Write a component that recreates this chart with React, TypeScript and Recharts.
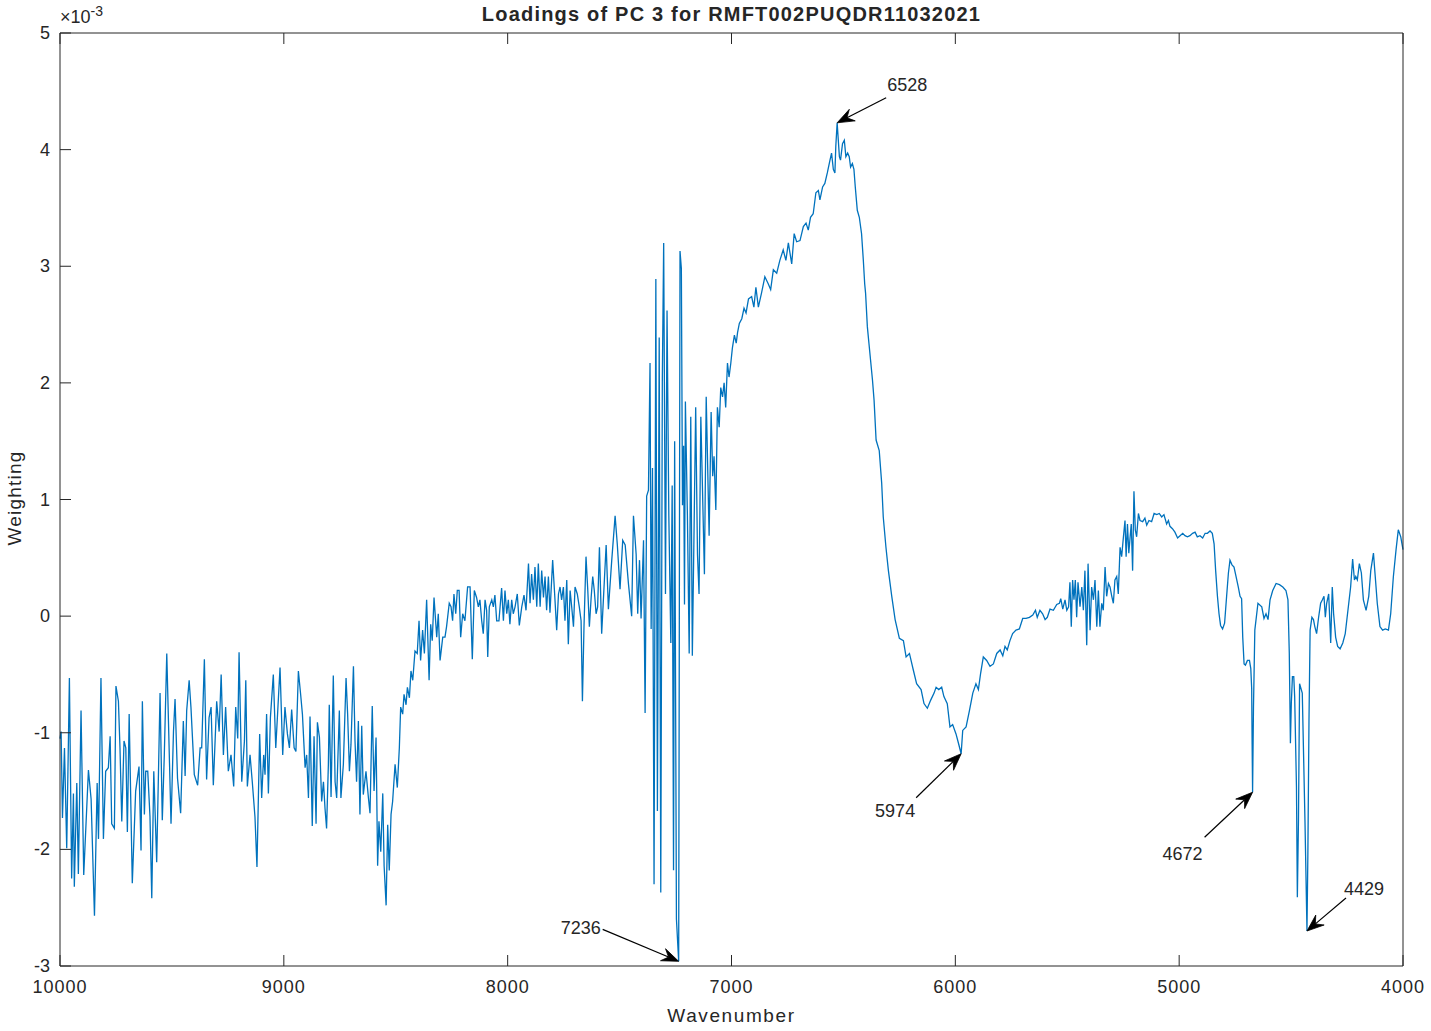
import { LineChart, Line, XAxis, YAxis, ReferenceDot } from 'recharts';

const xTicks = [10000, 9000, 8000, 7000, 6000, 5000, 4000];
const yTicks = [-3, -2, -1, 0, 1, 2, 3, 4, 5];

// [wavenumber, weighting x 1e-3]
const noisyEdge: [number, number][] = [
  [10000, -1.05], [9995, -0.99], [9989, -1.73], [9980, -1.13], [9970, -1.99], [9958, -0.53], [9948, -2.25], [9940, -1.52],
  [9936, -2.32], [9925, -1.43], [9918, -2.21], [9906, -0.81], [9894, -2.22], [9873, -1.32], [9861, -1.57], [9846, -2.57],
  [9834, -1.43], [9828, -1.91], [9817, -0.53], [9806, -1.91], [9796, -1.33], [9784, -1.3], [9776, -1.03], [9769, -1.78],
  [9757, -1.82], [9750, -0.6], [9739, -0.73], [9732, -1.13], [9724, -1.76], [9714, -1.07], [9706, -1.13], [9699, -1.85],
  [9691, -0.84], [9677, -2.29], [9662, -1.5], [9647, -1.29], [9638, -2.01], [9632, -0.73], [9623, -1.7], [9617, -1.33],
  [9608, -1.33], [9598, -1.72], [9590, -2.42], [9581, -1.33], [9568, -2.11], [9553, -0.66], [9543, -1.75], [9534, -1.19],
  [9523, -0.32], [9504, -1.78], [9493, -0.99], [9486, -0.71], [9475, -1.39], [9461, -1.69], [9449, -0.9], [9441, -1.37],
  [9434, -0.81], [9423, -0.55], [9415, -0.78], [9400, -1.36], [9385, -1.45], [9374, -1.13], [9367, -1.13], [9355, -0.37],
  [9345, -1.4], [9334, -0.87], [9325, -0.78], [9315, -1.45], [9300, -0.73], [9289, -0.99], [9280, -0.5], [9270, -1.19],
  [9260, -0.78], [9248, -1.33], [9236, -1.19], [9224, -1.46], [9215, -0.78], [9206, -1.05], [9200, -0.31], [9188, -1.42],
  [9176, -1.07], [9170, -0.55], [9163, -1.46], [9151, -1.19], [9141, -1.42], [9129, -1.72], [9120, -2.15], [9108, -1.01],
  [9099, -1.56], [9090, -1.19], [9084, -1.36], [9077, -0.84], [9069, -1.52], [9060, -0.87], [9047, -0.5], [9036, -1.13],
  [9017, -0.44], [9005, -1.19],
];

const dipBand: [number, number][] = [
  [8995, -0.78], [8984, -1.01], [8975, -1.13], [8965, -0.8], [8954, -1.13], [8946, -1.16], [8935, -0.47], [8925, -0.67],
  [8917, -0.84], [8905, -1.3], [8898, -1.19], [8890, -1.56], [8883, -0.86], [8873, -1.8], [8865, -1.03], [8856, -1.78],
  [8850, -0.91], [8841, -1.04], [8831, -1.59], [8823, -1.42], [8816, -1.65], [8809, -1.82], [8801, -1.27], [8797, -0.76],
  [8789, -1.55], [8779, -0.51], [8771, -1.42], [8764, -1.56], [8752, -0.81], [8745, -1.56], [8734, -1.27], [8722, -0.53],
  [8715, -0.84], [8707, -1.33], [8700, -1.1], [8689, -0.43], [8682, -1.07], [8675, -1.42], [8667, -0.9], [8660, -1.7],
  [8652, -0.94], [8645, -1.53], [8633, -1.33], [8622, -1.56], [8615, -1.69], [8605, -0.77], [8597, -1.5], [8588, -1.04],
  [8581, -2.14], [8575, -1.76], [8567, -2.02], [8558, -1.52], [8552, -2.14], [8543, -2.48], [8536, -1.79], [8529, -2.18],
  [8521, -1.7], [8514, -1.59], [8503, -1.27], [8493, -1.47], [8484, -1.13], [8478, -0.78], [8469, -0.84], [8463, -0.67],
  [8454, -0.76], [8448, -0.61], [8439, -0.7], [8432, -0.47], [8424, -0.55], [8414, -0.3], [8404, -0.32], [8396, -0.04],
  [8389, -0.38], [8380, -0.12], [8372, -0.32], [8362, 0.14], [8351, -0.55], [8344, -0.07], [8337, -0.21], [8329, 0.16],
  [8317, -0.18], [8310, 0.02], [8302, -0.38], [8290, -0.18], [8280, -0.18], [8273, -0.09], [8261, 0.11], [8253, 0.08],
  [8246, -0.04], [8240, 0.19], [8232, 0.02], [8225, 0.22], [8217, 0.22], [8210, -0.18], [8201, 0.02], [8191, -0.04],
  [8179, 0.25], [8168, 0.25], [8158, -0.37], [8149, 0.22], [8139, 0.16], [8131, 0.08], [8124, 0.14], [8116, -0.04],
  [8109, -0.15], [8101, 0.14], [8094, 0.05], [8089, -0.35], [8082, 0.08], [8071, 0.14], [8064, 0.08], [8057, 0.18],
  [8049, -0.04], [8039, -0.04], [8027, 0.24], [8019, -0.04], [8012, 0.22], [8004, 0.02], [7997, 0.14], [7990, -0.07],
  [7982, 0.14], [7975, 0.02], [7967, 0.08], [7957, 0.19], [7948, -0.08],
];

const plateau: [number, number][] = [
  [7937, 0.08], [7927, 0.18], [7918, 0.05], [7907, 0.45], [7900, 0.11], [7893, 0.36], [7885, 0.14], [7878, 0.42],
  [7870, 0.08], [7863, 0.45], [7855, 0.08], [7848, 0.39], [7840, 0.16], [7833, 0.34], [7826, 0.05], [7818, 0.34],
  [7811, 0.03], [7799, 0.48], [7791, 0.22], [7781, -0.12], [7773, 0.19], [7766, 0.25], [7759, 0.14], [7751, 0.25],
  [7744, -0.04], [7736, 0.31], [7729, -0.24], [7721, 0.22], [7714, 0.08], [7706, -0.09], [7699, 0.25], [7689, 0.19],
  [7680, 0.08], [7672, -0.04], [7666, -0.73], [7659, -0.09], [7650, 0.51], [7642, 0.22], [7635, -0.09], [7627, 0.16],
  [7620, 0.34], [7613, 0.22], [7605, 0.02], [7598, 0.08], [7590, 0.59],
];

const burst: [number, number][] = [
  [7580, -0.15], [7560, 0.61], [7550, 0.06], [7535, 0.48], [7520, 0.86], [7510, 0.61], [7498, 0.23], [7486, 0.65],
  [7475, 0.61], [7460, 0.27], [7446, 0.0], [7438, 0.86], [7426, 0.53], [7419, 0.02], [7411, 0.48], [7404, -0.02],
  [7393, 0.65], [7386, -0.83], [7379, 1.03], [7371, 1.08], [7364, 2.17], [7359, -0.11], [7353, 1.27], [7346, -2.3],
  [7338, 2.89], [7331, -1.67], [7323, 2.39], [7316, -2.37], [7309, 2.05], [7303, 3.2], [7295, 0.19], [7288, 2.62],
  [7280, 0.86], [7271, -0.23], [7265, 1.12], [7259, -2.18], [7254, 1.5], [7246, -2.6], [7236, -2.96], [7230, 3.13],
  [7224, 2.98], [7219, 0.95], [7214, 1.46], [7210, 0.1], [7206, 1.84], [7197, 0.86], [7189, -0.32], [7182, 1.71],
  [7175, -0.34], [7167, 0.78], [7160, 1.79], [7152, 0.53], [7145, 0.19], [7137, 1.71], [7130, 1.12], [7121, 0.36],
  [7113, 1.88], [7107, 1.33], [7100, 0.69], [7091, 1.75], [7084, 1.2], [7078, 1.37], [7070, 0.91], [7063, 1.79],
  [7055, 1.62], [7048, 1.96], [7040, 1.88], [7033, 2.0], [7026, 1.79], [7018, 2.17], [7011, 2.05], [7003, 2.17],
  [6996, 2.3], [6987, 2.41], [6979, 2.34], [6973, 2.43], [6965, 2.51], [6954, 2.55], [6944, 2.64], [6935, 2.6],
  [6924, 2.72],
];

const peakRise: [number, number][] = [
  [6910, 2.74], [6900, 2.65], [6891, 2.82], [6880, 2.65], [6866, 2.77], [6851, 2.91], [6836, 2.85], [6825, 2.8],
  [6813, 2.97], [6798, 2.94], [6784, 3.05], [6769, 3.14], [6757, 3.05], [6746, 3.2], [6731, 3.02], [6720, 3.28],
  [6709, 3.21], [6694, 3.22], [6679, 3.34], [6667, 3.37], [6657, 3.31], [6647, 3.42], [6635, 3.45], [6623, 3.63],
  [6612, 3.65], [6605, 3.57], [6593, 3.68], [6583, 3.71], [6572, 3.8], [6560, 3.91], [6553, 3.97], [6545, 3.83],
  [6538, 3.8], [6534, 4.03], [6528, 4.23], [6518, 3.94], [6513, 3.91], [6504, 4.05], [6496, 4.08], [6489, 3.94],
  [6481, 3.97], [6474, 3.94], [6468, 3.85], [6460, 3.88], [6453, 3.83], [6447, 3.68], [6438, 3.48], [6429, 3.42],
  [6419, 3.28], [6411, 3.05], [6405, 2.85], [6401, 2.77], [6393, 2.48], [6386, 2.34], [6379, 2.2], [6370, 2.02],
];

const valley: [number, number][] = [
  [6363, 1.85], [6354, 1.51], [6340, 1.42], [6329, 1.14], [6322, 0.85], [6310, 0.59], [6299, 0.39], [6284, 0.17],
  [6269, -0.03], [6250, -0.19], [6232, -0.21], [6220, -0.35], [6205, -0.32], [6188, -0.46], [6173, -0.58], [6153, -0.63],
  [6140, -0.75], [6125, -0.79], [6110, -0.72], [6095, -0.66], [6086, -0.61], [6074, -0.63], [6061, -0.61], [6051, -0.69],
  [6036, -0.75], [6024, -0.95], [6012, -0.93], [5997, -1.01], [5986, -1.09], [5974, -1.18], [5967, -0.98], [5952, -0.95],
  [5937, -0.81], [5922, -0.66], [5908, -0.58], [5897, -0.63], [5887, -0.49], [5875, -0.35], [5860, -0.38], [5845, -0.43],
  [5830, -0.41], [5815, -0.32], [5800, -0.29], [5788, -0.34], [5778, -0.26], [5768, -0.29], [5756, -0.21], [5744, -0.15],
  [5729, -0.12], [5714, -0.11], [5699, -0.02], [5684, -0.02], [5669, -0.01], [5654, 0.01], [5642, 0.05], [5634, -0.01],
  [5622, 0.05], [5610, 0.02], [5599, -0.03], [5589, -0.01], [5577, 0.06], [5562, 0.05], [5547, 0.1], [5535, 0.11],
  [5529, 0.15], [5520, 0.06], [5510, 0.14], [5502, 0.05], [5494, 0.08], [5488, 0.29], [5482, -0.09], [5476, 0.31],
  [5470, 0.14], [5464, 0.31], [5458, -0.01], [5452, 0.29], [5443, 0.08], [5435, 0.25], [5428, 0.05], [5421, 0.39],
  [5413, -0.25], [5407, 0.45], [5398, -0.12], [5391, 0.25], [5383, 0.14], [5376, 0.31], [5368, -0.09], [5361, 0.22],
];

const shoulder: [number, number][] = [
  [5354, -0.09], [5346, 0.11], [5339, 0.05], [5331, 0.42], [5324, 0.17], [5316, 0.28], [5309, 0.25], [5301, 0.17],
  [5294, 0.11], [5287, 0.31], [5279, 0.34], [5272, 0.19], [5264, 0.59], [5257, 0.51], [5249, 0.68], [5242, 0.82],
  [5237, 0.51], [5231, 0.79], [5225, 0.54], [5219, 0.68], [5214, 0.79], [5208, 0.39], [5202, 1.07], [5196, 0.74],
  [5190, 0.68], [5182, 0.88], [5175, 0.82], [5163, 0.81], [5153, 0.84], [5145, 0.78], [5135, 0.82], [5123, 0.81],
  [5112, 0.88], [5100, 0.87], [5089, 0.88], [5078, 0.85], [5068, 0.87], [5056, 0.79], [5048, 0.82], [5041, 0.77],
  [5030, 0.75], [5019, 0.72], [5007, 0.67], [4996, 0.69], [4984, 0.71], [4974, 0.69], [4963, 0.68], [4952, 0.69],
  [4940, 0.71], [4929, 0.72], [4919, 0.68], [4907, 0.69], [4895, 0.67], [4884, 0.71], [4874, 0.71], [4862, 0.73],
  [4852, 0.71], [4844, 0.62], [4837, 0.39], [4829, 0.17], [4822, 0.02], [4815, -0.08], [4806, -0.11], [4797, -0.06],
  [4788, 0.17], [4780, 0.37], [4773, 0.48], [4764, 0.44], [4755, 0.42], [4746, 0.34], [4736, 0.25], [4728, 0.17],
  [4721, 0.15], [4716, -0.18], [4710, -0.41], [4704, -0.42], [4695, -0.38], [4686, -0.38],
];

const bands: [number, number][] = [
  [4680, -0.45], [4676, -0.62], [4674, -1.1], [4672, -1.51], [4668, -0.78], [4662, -0.12], [4648, 0.11], [4631, 0.08],
  [4621, -0.02], [4612, 0.02], [4603, -0.03], [4594, 0.14], [4582, 0.22], [4567, 0.28], [4552, 0.27], [4537, 0.25],
  [4523, 0.22], [4514, 0.14], [4508, -0.32], [4503, -1.09], [4499, -0.75], [4494, -0.52], [4488, -0.52], [4484, -0.69],
  [4476, -1.46], [4472, -2.41], [4467, -1.75], [4462, -0.58], [4450, -0.66], [4438, -1.75], [4429, -2.7], [4425, -2.04],
  [4420, -0.89], [4415, -0.12], [4407, -0.01], [4400, -0.03], [4394, -0.09], [4386, -0.15], [4377, -0.01], [4368, 0.11],
  [4360, 0.14], [4353, 0.17], [4347, -0.01], [4341, 0.11], [4332, 0.19], [4323, -0.23], [4316, 0.25], [4310, 0.02],
  [4301, -0.18], [4292, -0.26], [4281, -0.28], [4269, -0.23], [4258, -0.15], [4246, 0.05], [4234, 0.25], [4225, 0.49],
  [4217, 0.31], [4211, 0.34], [4204, 0.31], [4195, 0.45], [4186, 0.37], [4177, 0.14], [4165, 0.05], [4153, 0.17],
  [4144, 0.39], [4132, 0.54], [4124, 0.34], [4115, 0.11], [4103, -0.09], [4091, -0.12], [4079, -0.11], [4065, -0.12],
  [4055, 0.02], [4043, 0.34], [4031, 0.57], [4021, 0.74], [4010, 0.68], [4000, 0.57],
];

const markedPeaks = [6528, 5974, 7236, 4672, 4429];

const spectrum = [...noisyEdge, ...dipBand, ...plateau, ...burst, ...peakRise, ...valley, ...shoulder, ...bands].map(
  ([wn, w]) => ({ wn, w })
);

const AXIS = '#262626';
const FONT = '"Liberation Sans", Arial, Helvetica, sans-serif';
const TICK = 11;

// pixel offsets from arrow tip to arrow tail, and text placement from the tail
const pointerLayout: Record<number, { ox: number; oy: number; anchor: 'start' | 'end'; tdx: number; tdy: number }> = {
  6528: { ox: 49, oy: -25, anchor: 'start', tdx: 1, tdy: -7 },
  5974: { ox: -45, oy: 44, anchor: 'end', tdx: -1, tdy: 19 },
  7236: { ox: -76, oy: -32, anchor: 'end', tdx: -2, tdy: 5 },
  4672: { ox: -48, oy: 45, anchor: 'end', tdx: -2, tdy: 23 },
  4429: { ox: 39, oy: -33, anchor: 'start', tdx: -2, tdy: -3 },
};

function BottomTick(props: any) {
  const { x, y, payload } = props;
  return (
    <g>
      <line x1={x} y1={y} x2={x} y2={y - TICK} stroke={AXIS} strokeWidth={1} />
      <text x={x} y={y + 27} textAnchor="middle" fill={AXIS} fontSize={18} fontFamily={FONT} letterSpacing={1}>
        {payload.value}
      </text>
    </g>
  );
}

function TopTick(props: any) {
  const { x, y } = props;
  return <line x1={x} y1={y} x2={x} y2={y + TICK} stroke={AXIS} strokeWidth={1} />;
}

function LeftTick(props: any) {
  const { x, y, payload } = props;
  return (
    <g>
      <line x1={x} y1={y} x2={x + TICK} y2={y} stroke={AXIS} strokeWidth={1} />
      <text x={x - 10} y={y + 6} textAnchor="end" fill={AXIS} fontSize={18} fontFamily={FONT}>
        {payload.value}
      </text>
    </g>
  );
}

function RightTick(props: any) {
  const { x, y } = props;
  return <line x1={x} y1={y} x2={x - TICK} y2={y} stroke={AXIS} strokeWidth={1} />;
}

function Pointer(props: any) {
  const { cx, cy, label } = props;
  const lay = pointerLayout[label];
  if (cx == null || cy == null || !lay) return null;
  const tx = cx + lay.ox;
  const ty = cy + lay.oy;
  const len = Math.hypot(cx - tx, cy - ty);
  const ux = (cx - tx) / len;
  const uy = (cy - ty) / len;
  const L = 17;
  const W = 6.5;
  const notch = 11;
  const bx = cx - ux * L;
  const by = cy - uy * L;
  const nx = cx - ux * notch;
  const ny = cy - uy * notch;
  const pts = `${cx},${cy} ${bx - uy * W},${by + ux * W} ${nx},${ny} ${bx + uy * W},${by - ux * W}`;
  return (
    <g>
      <line x1={tx} y1={ty} x2={nx} y2={ny} stroke="#000" strokeWidth={1.2} />
      <polygon points={pts} fill="#000" stroke="#000" strokeWidth={0.8} strokeLinejoin="miter" />
      <text x={tx + lay.tdx} y={ty + lay.tdy} textAnchor={lay.anchor} fill={AXIS} fontSize={18} fontFamily={FONT}>
        {label}
      </text>
    </g>
  );
}

export default function App() {
  return (
    <div style={{ position: 'absolute', left: 0, top: 0, width: 1431, height: 1031, background: '#fff', fontFamily: FONT }}>
      <LineChart width={1431} height={1031} data={spectrum} margin={{ top: 0, right: 0, bottom: 0, left: 0 }}>
        <XAxis
          dataKey="wn"
          type="number"
          domain={[4000, 10000]}
          ticks={xTicks}
          reversed
          interval={0}
          height={65}
          tickSize={0}
          tickMargin={0}
          tickLine={false}
          axisLine={{ stroke: AXIS, strokeWidth: 1 }}
          tick={(p: any) => <BottomTick {...p} />}
        />
        <XAxis
          xAxisId="top"
          orientation="top"
          dataKey="wn"
          type="number"
          domain={[4000, 10000]}
          ticks={xTicks}
          reversed
          interval={0}
          height={33}
          tickSize={0}
          tickMargin={0}
          tickLine={false}
          axisLine={{ stroke: AXIS, strokeWidth: 1 }}
          tick={(p: any) => <TopTick {...p} />}
        />
        <YAxis
          type="number"
          domain={[-3, 5]}
          ticks={yTicks}
          interval={0}
          width={60}
          tickSize={0}
          tickMargin={0}
          tickLine={false}
          axisLine={{ stroke: AXIS, strokeWidth: 1 }}
          tick={(p: any) => <LeftTick {...p} />}
        />
        <YAxis
          yAxisId="right"
          orientation="right"
          type="number"
          domain={[-3, 5]}
          ticks={yTicks}
          interval={0}
          width={28}
          tickSize={0}
          tickMargin={0}
          tickLine={false}
          axisLine={{ stroke: AXIS, strokeWidth: 1 }}
          tick={(p: any) => <RightTick {...p} />}
        />
        <Line
          type="linear"
          dataKey="w"
          stroke="#0072BD"
          strokeWidth={1.3}
          dot={false}
          activeDot={false}
          isAnimationActive={false}
        />
        {markedPeaks.map((wn) => {
          const pt = spectrum.find((d) => d.wn === wn);
          return (
            <ReferenceDot
              key={wn}
              x={wn}
              y={pt ? pt.w : 0}
              r={0}
              ifOverflow="visible"
              shape={(p: any) => <Pointer {...p} label={wn} />}
            />
          );
        })}
      </LineChart>

      <div style={{ position: 'absolute', left: 0, top: 3, width: 1463, textAlign: 'center', fontSize: 20, lineHeight: '22px', fontWeight: 'bold', color: AXIS, letterSpacing: 1.2 }}>
        Loadings of PC 3 for RMFT002PUQDR11032021
      </div>
      <div style={{ position: 'absolute', left: 60, top: 6, fontSize: 18, lineHeight: '22px', color: AXIS }}>
        ×10<sup style={{ fontSize: 14, verticalAlign: 'top', position: 'relative', top: -6 }}>-3</sup>
      </div>
      <div style={{ position: 'absolute', left: 0, top: 1006, width: 1463, textAlign: 'center', fontSize: 19, lineHeight: '20px', color: AXIS, letterSpacing: 1.6 }}>
        Wavenumber
      </div>
      <div style={{ position: 'absolute', left: -85, top: 488, width: 200, height: 20, textAlign: 'center', fontSize: 19, lineHeight: '20px', color: AXIS, letterSpacing: 1.2, transform: 'rotate(-90deg)' }}>
        Weighting
      </div>
    </div>
  );
}
